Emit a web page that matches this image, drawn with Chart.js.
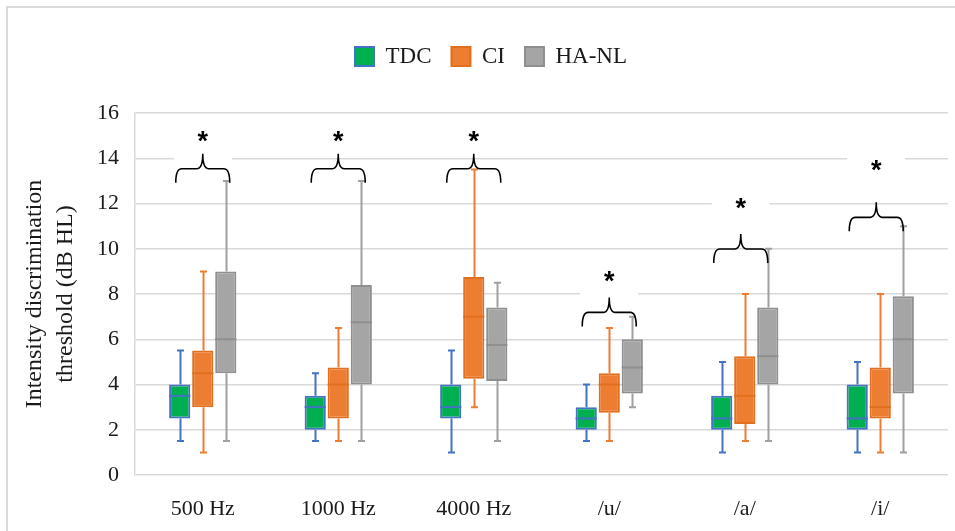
<!DOCTYPE html>
<html>
<head>
<meta charset="utf-8">
<script src="https://cdn.jsdelivr.net/npm/chart.js@4.4.1/dist/chart.umd.min.js"></script>
<style>
  html, body { margin: 0; padding: 0; background: #fff; }
  #wrap { width: 955px; height: 531px; position: relative; }
</style>
</head>
<body>
<div id="wrap"><canvas id="chart" width="955" height="531"></canvas></div>
<script>
const categories = ['500 Hz', '1000 Hz', '4000 Hz', '/u/', '/a/', '/i/'];

// five-number summaries (dB HL): min, q1, median, q3, max
const tdcMin = [1.5, 1.5, 1.0, 1.5, 1.0, 1.0];
const tdcQ1  = [2.5, 2.0, 2.5, 2.0, 2.0, 2.0];
const tdcMed = [3.5, 3.0, 3.0, 2.5, 2.5, 2.5];
const tdcQ3  = [4.0, 3.5, 4.0, 3.0, 3.5, 4.0];
const tdcMax = [5.5, 4.5, 5.5, 4.0, 5.0, 5.0];

const ciMin = [1.0, 1.5, 3.0, 1.5, 1.5, 1.0];
const ciQ1  = [3.0, 2.5, 4.25, 2.75, 2.25, 2.5];
const ciMed = [4.5, 4.0, 7.0, 4.0, 3.5, 3.0];
const ciQ3  = [5.5, 4.75, 8.75, 4.5, 5.25, 4.75];
const ciMax = [9.0, 6.5, 13.5, 6.5, 8.0, 8.0];

const haMin = [1.5, 1.5, 1.5, 3.0, 1.5, 1.0];
const haQ1  = [4.5, 4.0, 4.15, 3.6, 4.0, 3.6];
const haMed = [6.0, 6.75, 5.75, 4.75, 5.25, 6.0];
const haQ3  = [9.0, 8.4, 7.4, 6.0, 7.4, 7.9];
const haMax = [13.0, 13.0, 8.5, 7.0, 10.0, 11.0];

// significance marks: brace tip level and asterisk level per category
const sigMark   = ['*', '*', '*', '*', '*', '*'];
const braceTip  = [14.2, 14.2, 14.2, 7.85, 10.65, 12.05];
const starLevel = [14.85, 14.85, 14.85, 8.7, 11.9, 13.6];

const SERIF = "'Liberation Serif', 'Times New Roman', serif";
const GRID = '#d9d9d9';

function boxSet(label, fill, edge, whisker, q1, med, q3, min, max) {
  return {
    label,
    data: q1.map((v, i) => [v, q3[i]]),
    backgroundColor: fill,
    borderColor: edge,
    borderWidth: 2,
    borderSkipped: false,
    whiskerColor: whisker,
    stats: { min, med, max }
  };
}

// whiskers behind each box, median line on top
const boxPlot = {
  id: 'boxPlot',
  beforeDatasetsDraw(chart) {
    const { ctx, scales: { y } } = chart;
    chart.data.datasets.forEach((ds, di) => {
      const meta = chart.getDatasetMeta(di);
      ctx.save();
      ctx.strokeStyle = ds.whiskerColor;
      ctx.lineWidth = 2;
      meta.data.forEach((bar, i) => {
        const x = Math.round(bar.x) + 0.5;
        const lo = y.getPixelForValue(ds.stats.min[i]);
        const hi = y.getPixelForValue(ds.stats.max[i]);
        const q1 = y.getPixelForValue(ds.data[i][0]);
        const q3 = y.getPixelForValue(ds.data[i][1]);
        ctx.beginPath();
        ctx.moveTo(x, lo); ctx.lineTo(x, q1);
        ctx.moveTo(x, q3); ctx.lineTo(x, hi);
        ctx.moveTo(x - 3.5, lo); ctx.lineTo(x + 3.5, lo);
        ctx.moveTo(x - 3.5, hi); ctx.lineTo(x + 3.5, hi);
        ctx.stroke();
      });
      ctx.restore();
    });
  },
  afterDatasetsDraw(chart) {
    const { ctx, scales: { y } } = chart;
    chart.data.datasets.forEach((ds, di) => {
      const meta = chart.getDatasetMeta(di);
      ctx.save();
      ctx.strokeStyle = ds.borderColor;
      ctx.lineWidth = 2;
      meta.data.forEach((bar, i) => {
        const m = y.getPixelForValue(ds.stats.med[i]);
        ctx.beginPath();
        ctx.moveTo(bar.x - bar.width / 2, m);
        ctx.lineTo(bar.x + bar.width / 2, m);
        ctx.stroke();
      });
      ctx.restore();
    });
  }
};

// curly braces with asterisks above each group
const BOXED = new Set([0, 3, 4, 5]);
const sigBraces = {
  id: 'sigBraces',
  afterDraw(chart) {
    const { ctx, scales: { x, y } } = chart;
    categories.forEach((c, i) => {
      const cx = x.getPixelForValue(i) - (i >= 4 ? 4 : 0);
      const sy = y.getPixelForValue(starLevel[i]);
      ctx.save();
      if (BOXED.has(i)) {
        ctx.fillStyle = '#fff';
        ctx.fillRect(cx - 29, sy - 14, 58, 36);
      }
      ctx.fillStyle = '#000';
      ctx.font = "bold 27px 'Liberation Sans', Arial, sans-serif";
      ctx.textAlign = 'center';
      ctx.textBaseline = 'middle';
      ctx.fillText(sigMark[i], cx, sy + 4);

      const tip = y.getPixelForValue(braceTip[i]);
      const mid = tip + 15, end = tip + 29, half = 27, r = 6;
      ctx.strokeStyle = '#000';
      ctx.lineWidth = 1.6;
      ctx.beginPath();
      ctx.moveTo(cx - half, end);
      ctx.quadraticCurveTo(cx - half, mid, cx - half + r, mid);
      ctx.lineTo(cx - r, mid);
      ctx.quadraticCurveTo(cx, mid, cx, tip);
      ctx.quadraticCurveTo(cx, mid, cx + r, mid);
      ctx.lineTo(cx + half - r, mid);
      ctx.quadraticCurveTo(cx + half, mid, cx + half, end);
      ctx.stroke();
      ctx.restore();
    });
  }
};

// light frame along the top and left edges
const frame = {
  id: 'frame',
  beforeDraw(chart) {
    const { ctx, width, height } = chart;
    ctx.save();
    ctx.strokeStyle = GRID;
    ctx.lineWidth = 2;
    ctx.beginPath();
    ctx.moveTo(7, height);
    ctx.lineTo(7, 7);
    ctx.lineTo(width, 7);
    ctx.stroke();
    ctx.restore();
  }
};

// extra room under the legend, and legend nudged right
const legendSpace = {
  id: 'legendSpace',
  beforeInit(chart) {
    const fit = chart.legend.fit;
    chart.legend.fit = function () {
      fit.call(this);
      this.height += 35;
    };
  },
  afterLayout(chart) {
    chart.legend.left += 17;
    chart.legend.right += 17;
  }
};

new Chart(document.getElementById('chart'), {
  type: 'bar',
  data: {
    labels: categories,
    datasets: [
      boxSet('TDC', '#00b050', '#4472c4', '#4472c4', tdcQ1, tdcMed, tdcQ3, tdcMin, tdcMax),
      boxSet('CI', '#ed7d31', '#e0701f', '#ed7d31', ciQ1, ciMed, ciQ3, ciMin, ciMax),
      boxSet('HA-NL', '#a5a5a5', '#8f8f8f', '#a0a0a0', haQ1, haMed, haQ3, haMin, haMax)
    ]
  },
  options: {
    responsive: false,
    animation: false,
    layout: { padding: { top: 25, right: 7, left: 0, bottom: 0 } },
    datasets: { bar: { categoryPercentage: 0.51, barPercentage: 0.92 } },
    plugins: {
      legend: {
        position: 'top',
        labels: {
          boxWidth: 19,
          boxHeight: 19,
          padding: 20,
          color: '#1a1a1a',
          font: { family: SERIF, size: 23 }
        }
      },
      tooltip: { enabled: false }
    },
    scales: {
      x: {
        grid: { display: false },
        border: { display: false },
        ticks: { color: '#1a1a1a', padding: 13, font: { family: SERIF, size: 22 } },
        afterFit(s) { s.height = 56; }
      },
      y: {
        min: 0,
        max: 16,
        ticks: { stepSize: 2, color: '#1a1a1a', padding: 16, font: { family: SERIF, size: 22 } },
        grid: { color: GRID, lineWidth: 1.5, drawTicks: false },
        border: { display: true, color: GRID, width: 1.5 },
        title: {
          display: true,
          text: ['Intensity discrimination', 'threshold (dB HL)'],
          color: '#1a1a1a',
          font: { family: SERIF, size: 24, lineHeight: 1.3 },
          padding: { top: 19, bottom: 0 }
        },
        afterFit(s) { s.width = 135; }
      }
    }
  },
  plugins: [frame, legendSpace, boxPlot, sigBraces]
});
</script>
</body>
</html>
